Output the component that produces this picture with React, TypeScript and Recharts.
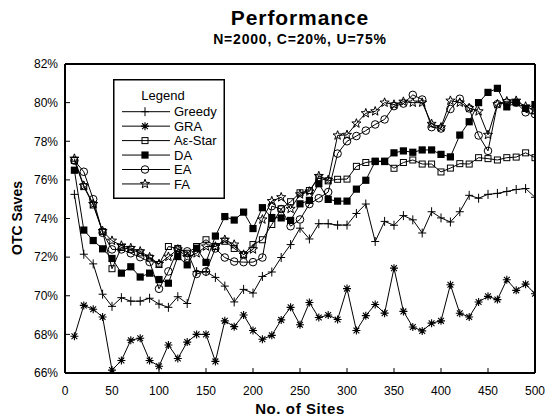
import { LineChart, Line, XAxis, YAxis, Legend } from 'recharts';

const FONT = "'Liberation Sans', Arial, Helvetica, sans-serif";

const sites = [
  10, 20, 30, 40, 50, 60, 70, 80, 90, 100,
  110, 120, 130, 140, 150, 160, 170, 180, 190, 200,
  210, 220, 230, 240, 250, 260, 270, 280, 290, 300,
  310, 320, 330, 340, 350, 360, 370, 380, 390, 400,
  410, 420, 430, 440, 450, 460, 470, 480, 490, 500,
];

const greedy = [
  75.25, 72.15, 71.65, 70.08, 69.45, 69.9, 69.72, 69.72, 69.87, 69.57,
  69.4, 69.95, 69.6, 71.25, 71.25, 70.95, 70.5, 69.68, 70.33, 70.14,
  71.0, 71.23, 71.98, 72.65, 73.5, 72.94, 73.73, 73.73, 73.66, 73.66,
  74.26, 74.75, 72.81, 73.85, 73.65, 74.15, 73.93, 73.25, 74.35, 74.03,
  73.82, 74.35, 75.2, 75.05, 75.25, 75.3, 75.4, 75.5, 75.55, 75.1,
];

const gra = [
  67.9, 69.5, 69.3, 68.9, 66.15, 66.65, 67.7, 67.8, 66.65, 66.35,
  67.45, 66.75, 67.6, 68.0, 68.0, 66.6, 68.7, 68.4, 69.0, 68.2,
  67.75, 67.95, 68.75, 69.4, 68.5, 69.65, 68.87, 69.0, 68.77, 70.37,
  68.2, 68.97, 69.55, 69.1, 71.43, 69.19, 68.38, 68.18, 68.58, 68.7,
  70.57, 69.09, 68.9, 69.68, 69.97, 69.8, 70.83, 70.28, 70.6, 70.1,
];

const aeStar = [
  77.0, 75.65, 74.7, 73.32, 71.4, 72.5, 72.4, 72.22, 71.95, 71.62,
  72.55, 72.45, 72.2, 72.55, 72.9, 72.55, 72.82, 72.45, 72.13, 72.65,
  72.9, 73.69, 74.5, 74.87, 75.33, 75.45, 76.1, 75.95, 76.03, 76.04,
  76.7, 76.9, 76.97, 76.97, 76.6, 76.9, 77.03, 76.82, 76.82, 76.41,
  76.61, 76.84, 76.82, 77.15, 77.1, 77.03, 77.15, 77.18, 77.4, 77.15,
];

const da = [
  76.5, 73.4, 72.86, 72.43, 71.93, 71.17, 71.5, 70.97, 71.17, 70.84,
  70.65, 72.03, 71.6, 72.46, 71.73, 73.09, 74.1, 73.92, 74.33, 73.48,
  74.56, 74.05, 74.03, 73.9, 74.76, 74.94, 75.8, 74.99, 74.9, 74.9,
  75.52, 75.98, 76.95, 76.95, 77.4, 77.5, 77.43, 77.55, 77.55, 77.32,
  77.19, 78.32, 79.01, 80.0, 80.53, 80.74, 79.78, 80.0, 79.7, 79.9,
];

const ea = [
  77.0, 76.42, 75.0, 73.26, 72.4, 72.4, 72.2, 72.0, 71.75, 70.36,
  71.26, 72.4, 72.3, 71.13, 71.25, 72.45, 71.98, 71.77, 71.74, 71.74,
  71.98, 74.64, 74.49, 73.6, 73.95, 74.75, 75.05, 75.37, 77.36, 78.0,
  78.27, 78.55, 78.87, 79.13, 79.82, 79.95, 80.4, 80.16, 78.73, 78.66,
  79.67, 80.2, 79.7, 78.3, 77.5, 79.92, 80.0, 80.0, 79.5, 79.4,
];

const fa = [
  77.1, 75.7, 74.75, 73.35, 72.85, 72.6, 72.47, 72.3, 72.0, 71.65,
  72.02, 72.4, 72.0, 72.2, 72.55, 72.55, 72.9, 72.65, 72.13, 72.4,
  73.95, 74.9, 75.1, 74.5, 75.25, 75.4, 76.2, 76.0, 78.3, 78.33,
  78.92, 79.45, 79.55, 80.0, 79.9, 80.05, 80.0, 80.0, 78.9, 78.72,
  80.1, 80.0, 79.72, 79.55, 78.33, 79.92, 80.07, 80.1, 79.8, 79.6,
];

const xTicks = [0, 50, 100, 150, 200, 250, 300, 350, 400, 450, 500];
const yTicks = [66, 68, 70, 72, 74, 76, 78, 80, 82];

const series = [
  { key: 'greedy', name: 'Greedy', shape: 'plus' },
  { key: 'gra', name: 'GRA', shape: 'asterisk' },
  { key: 'aeStar', name: 'A\u03b5-Star', shape: 'square' },
  { key: 'da', name: 'DA', shape: 'filled' },
  { key: 'ea', name: 'EA', shape: 'circle' },
  { key: 'fa', name: 'FA', shape: 'star' },
];

const data = sites.map((x, i) => ({
  x,
  greedy: greedy[i],
  gra: gra[i],
  aeStar: aeStar[i],
  da: da[i],
  ea: ea[i],
  fa: fa[i],
}));

function Mark({ shape, cx, cy }: { shape: string; cx: number; cy: number }) {
  const s = { stroke: '#000', strokeWidth: 1, fill: 'none' };
  if (shape === 'plus') {
    return <path d={`M${cx - 4} ${cy}H${cx + 4}M${cx} ${cy - 4.5}V${cy + 4.5}`} {...s} />;
  }
  if (shape === 'asterisk') {
    const r = 4;
    const d = 2.9;
    return (
      <path
        d={`M${cx} ${cy - r}V${cy + r}M${cx - r} ${cy}H${cx + r}M${cx - d} ${cy - d}L${cx + d} ${cy + d}M${cx - d} ${cy + d}L${cx + d} ${cy - d}`}
        {...s}
        strokeWidth={1.1}
      />
    );
  }
  if (shape === 'square') return <rect x={cx - 3} y={cy - 3} width={6} height={6} {...s} />;
  if (shape === 'filled') return <rect x={cx - 3.6} y={cy - 3.6} width={7.2} height={7.2} fill="#000" />;
  if (shape === 'circle') return <circle cx={cx} cy={cy} r={3.8} {...s} />;
  // five-point star
  const pts: string[] = [];
  for (let k = 0; k < 10; k++) {
    const r = k % 2 === 0 ? 4.8 : 2.0;
    const a = -Math.PI / 2 + (k * Math.PI) / 5;
    pts.push(`${cx + r * Math.cos(a)},${cy + r * Math.sin(a)}`);
  }
  return <polygon points={pts.join(' ')} {...s} />;
}

function LegendBox() {
  return (
    <svg width={112} height={120} style={{ display: 'block' }}>
      <rect x={0.75} y={0.75} width={110.5} height={118.5} fill="#fff" stroke="#000" strokeWidth={1.5} />
      <text x={50} y={20.5} textAnchor="middle" fontSize={13} fontFamily={FONT} fill="#000">
        Legend
      </text>
      {series.map((s, i) => {
        const y = 32.7 + i * 14.45;
        return (
          <g key={s.key}>
            <line x1={9} x2={57} y1={y} y2={y} stroke="#000" strokeWidth={1} />
            <Mark shape={s.shape} cx={32} cy={y} />
            <text x={61} y={y + 4.6} fontSize={13} fontFamily={FONT} fill="#000">
              {s.name}
            </text>
          </g>
        );
      })}
    </svg>
  );
}

export default function App() {
  const tickStyle = { fill: '#000', fontSize: 12, fontFamily: FONT };
  const axisLine = { stroke: '#000', strokeWidth: 2 };
  const tickLine = { stroke: '#000', strokeWidth: 1 };

  return (
    <div style={{ position: 'absolute', left: 0, top: 0, width: 546, height: 417, background: '#fff' }}>
      <div
        style={{
          position: 'absolute', left: 150, top: 6, width: 300, textAlign: 'center',
          fontFamily: FONT, fontWeight: 'bold', fontSize: 21, letterSpacing: 0.9, color: '#000',
        }}
      >
        Performance
      </div>
      <div
        style={{
          position: 'absolute', left: 150, top: 31, width: 300, textAlign: 'center',
          fontFamily: FONT, fontWeight: 'bold', fontSize: 14, letterSpacing: 0.8, color: '#000',
        }}
      >
        N=2000, C=20%, U=75%
      </div>

      <LineChart width={546} height={417} data={data} margin={{ top: 63, right: 10, bottom: 0, left: 0 }}>
        <XAxis
          dataKey="x"
          type="number"
          domain={[0, 500]}
          ticks={xTicks}
          allowDataOverflow
          height={44}
          tickSize={-5}
          tickMargin={18}
          tick={tickStyle}
          axisLine={axisLine}
          tickLine={tickLine}
        />
        <XAxis
          xAxisId="top"
          orientation="top"
          type="number"
          domain={[0, 500]}
          ticks={xTicks}
          allowDataOverflow
          height={1}
          tickSize={-5}
          tick={false}
          axisLine={axisLine}
          tickLine={tickLine}
        />
        <YAxis
          type="number"
          domain={[66, 82]}
          ticks={yTicks}
          allowDataOverflow
          width={65}
          tickSize={-5}
          tickMargin={12}
          tick={tickStyle}
          tickFormatter={(v: number) => `${v}%`}
          axisLine={axisLine}
          tickLine={tickLine}
        />
        <YAxis
          yAxisId="right"
          orientation="right"
          type="number"
          domain={[66, 82]}
          ticks={yTicks}
          allowDataOverflow
          width={1}
          tickSize={-5}
          tick={false}
          axisLine={axisLine}
          tickLine={tickLine}
        />
        <Legend
          layout="vertical"
          align="center"
          verticalAlign="middle"
          wrapperStyle={{ left: 113, top: 79, width: 112, height: 120 }}
          content={() => <LegendBox />}
        />
        {series.map((s) => (
          <Line
            key={s.key}
            dataKey={s.key}
            name={s.name}
            stroke="#000"
            strokeWidth={1}
            isAnimationActive={false}
            activeDot={false}
            dot={(p: any) => (
              <g key={`${s.key}-${p.index}`}>
                <Mark shape={s.shape} cx={p.cx} cy={p.cy} />
              </g>
            )}
          />
        ))}
      </LineChart>

      <div
        style={{
          position: 'absolute', left: 200, top: 401, width: 200, textAlign: 'center',
          fontFamily: FONT, fontWeight: 'bold', fontSize: 15, lineHeight: '15px', letterSpacing: 0.6, color: '#000',
        }}
      >
        No. of Sites
      </div>
      <div
        style={{
          position: 'absolute', left: -43, top: 210, width: 120, textAlign: 'center',
          fontFamily: FONT, fontWeight: 'bold', fontSize: 14, lineHeight: '16px', color: '#000',
          transform: 'rotate(-90deg)',
        }}
      >
        OTC Saves
      </div>
    </div>
  );
}
